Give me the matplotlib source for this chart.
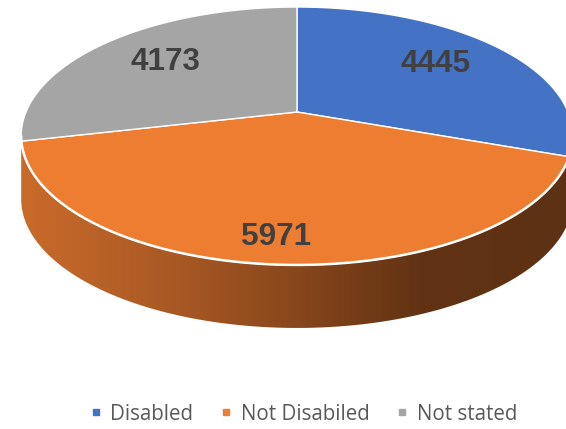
import numpy as np
import matplotlib.pyplot as plt
from matplotlib.patches import Polygon
from matplotlib.lines import Line2D

labels = ['Disabled', 'Not Disabiled', 'Not stated']
values = [4445, 5971, 4173]
colors = ['#4472C4', '#ED7D31', '#A5A5A5']

W, H = 566, 429
fig = plt.figure(figsize=(W / 100, H / 100), dpi=100)
ax = fig.add_axes([0, 0, 1, 1])

# 3D-pie projection parameters (pixel space)
cx, cy = 297, 112
A, B, K = 271, 124.5, -0.186
DEPTH = 63


def proj(theta_deg, r=1.0):
    t = np.radians(theta_deg)
    s = r * np.sin(t)
    u = -r * np.cos(t)
    d = 1 + K * u
    return cx + A * s / d, cy + B * u / d


# side wall
grid = np.arange(0, 360.001, 0.25)
gx, gy = proj(grid)
th_r = grid[np.argmax(gx)]
th_l = grid[np.argmin(gx)]
arc = np.arange(th_r, th_l + 0.001, 0.25)
ax_, ay_ = proj(arc)
side_pts = np.concatenate([np.column_stack([ax_, ay_]),
                           np.column_stack([ax_[::-1], ay_[::-1] + DEPTH])])
side = Polygon(side_pts, closed=True, facecolor='none', edgecolor='none')
ax.add_patch(side)

stops_x = [0, 22, 180, 300, 420, 566]
stops_c = np.array([(201, 107, 43), (201, 107, 43), (168, 88, 36),
                    (135, 70, 28), (97, 51, 20), (93, 49, 19)]) / 255.0
xs = np.linspace(0, W, 800)
img = np.stack([np.interp(xs, stops_x, stops_c[:, i]) for i in range(3)], axis=-1)[None, :, :]
im = ax.imshow(img, extent=(0, W, H, 0), aspect='auto', zorder=1)
im.set_clip_path(side)

# top slices
total = sum(values)
start = 0.0
mids = []
for v, c in zip(values, colors):
    span = 360.0 * v / total
    th = np.arange(start, start + span + 1e-9, 0.25)
    if th[-1] < start + span:
        th = np.append(th, start + span)
    px, py = proj(th)
    pts = np.vstack([[cx, cy], np.column_stack([px, py])])
    ax.add_patch(Polygon(pts, closed=True, facecolor=c, edgecolor='white',
                         linewidth=1.0, zorder=2))
    mids.append(start + span / 2)
    start += span

# white front rim
ax.plot(ax_, ay_, color='white', linewidth=1.8, zorder=3, solid_capstyle='round')

# data labels
label_r = [0.67, 0.85, 0.67]
label_dx = [0, -5, 0]
label_dy = [-3, 0, -2]
for v, m, r, dx, dy in zip(values, mids, label_r, label_dx, label_dy):
    lx, ly = proj(m, r)
    ax.text(lx + dx, ly + dy, f'{v}', ha='center', va='center', fontsize=22.7,
            fontweight='bold', family='Liberation Sans', color='#404040', zorder=4)

ax.set_xlim(0, W)
ax.set_ylim(H, 0)
ax.axis('off')

handles = [Line2D([], [], marker='s', linestyle='', color=c, markersize=5) for c in colors]
fig.legend(handles, labels, loc='center', bbox_to_anchor=(301.5 / W, 1 - 414 / H), ncol=3,
           frameon=False, prop=dict(family='Open Sans', size=14.8), labelcolor='#595959',
           handletextpad=0.2, columnspacing=1.1, handlelength=1.0, borderaxespad=0)

fig.savefig('out.png', dpi=100)
